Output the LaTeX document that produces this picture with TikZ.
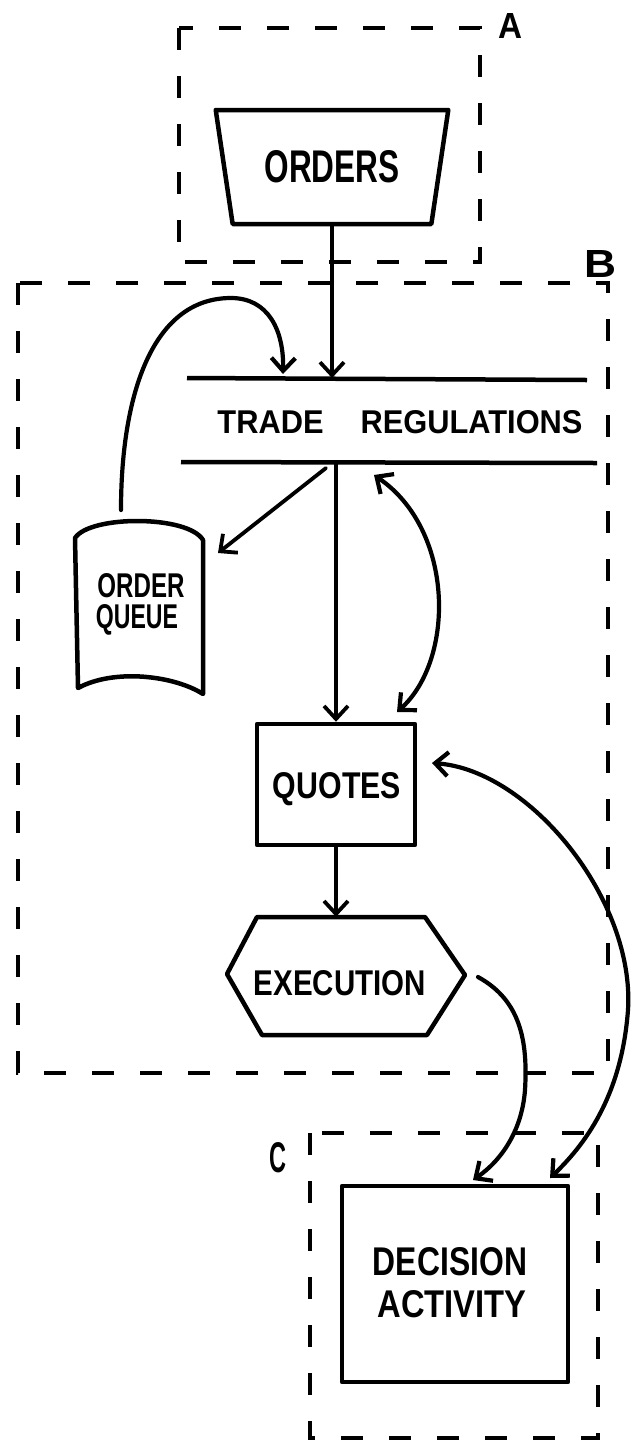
\documentclass[tikz,border=0pt]{standalone}
\usepackage{fontspec}
\setmainfont{Liberation Sans}
\usetikzlibrary{arrows.meta,shapes.geometric}
\newcommand{\fitt}[3]{\resizebox{#1pt}{#2pt}{\bfseries #3}}
\begin{document}
\begin{tikzpicture}[x=1pt,y=-1pt,
  dbox/.style={draw, line width=3.6pt, dash pattern=on 22pt off 26pt},
  shp/.style={draw, line width=4.5pt, line join=round},
  tip/.tip={Straight Barb[length=13pt,width=24pt]},
  arr/.style={line width=3.8pt, line cap=round, -tip},
  darr/.style={line width=4.2pt, line cap=round, tip-tip},
  txt/.style={inner sep=0pt, anchor=base}]
\useasboundingbox (0,0) rectangle (632,1444);
% frames
\draw[dbox] (179,28) rectangle (480,262);
\draw[dbox] (18,283) rectangle (608,1073);
\draw[dbox] (310,1133) rectangle (598,1438);
\node[txt] (la) at (510,38) {\fitt{24}{25}{A}};
\node[txt] (lb) at (601,277) {\fitt{32}{27}{B}};
\node[txt] (lc) at (278,1172) {\fitt{17}{30}{C}};
% orders
\node[trapezium, shape border rotate=180, trapezium stretches=true,
  trapezium left angle=70.5, trapezium right angle=70.5,
  minimum width=233pt, minimum height=114pt, inner sep=0pt, shp]
  (orders) at (332,167) {\fitt{135}{32}{ORDERS}};
% trade regulations
\node[txt] (tr) at (400,433) {\fitt{365}{23}{TRADE\hspace{1.2em}REGULATIONS}};
\coordinate (trtop) at (0,378);
\coordinate (trbot) at (0,462);
\draw[line width=4.5pt] (187,378) -- (587,380);
\draw[line width=4.5pt] (181,462) -- (597,463);
% order queue
\node[minimum width=128pt, minimum height=153pt, inner sep=0pt] (oq) at (139,613) {};
\draw[shp] (78,688) -- (75,538) .. controls (90,515) and (188,515) .. (203,540)
  -- (203,694) .. controls (175,676) and (115,668) .. cycle;
\node[txt] (oqa) at (141,597) {\fitt{87}{24}{ORDER}};
\node[txt] (oqb) at (137,628) {\fitt{82}{24}{QUEUE}};
% quotes
\node[shp, minimum width=158pt, minimum height=121pt, inner sep=0pt]
  (quotes) at (336,784.5) {};
\node[txt] (quotest) at (337,798) {\fitt{128}{26}{QUOTES}};
% execution
\node[minimum width=238pt, minimum height=118pt, inner sep=0pt] (exec) at (346,976) {};
\draw[shp] (227,974) -- (257,917) -- (425,917) -- (465,975) -- (427,1035) -- (262,1035) -- cycle;
\node[txt] (exect) at (340,995) {\fitt{172}{25}{EXECUTION}};
% decision
\node[shp, minimum width=226pt, minimum height=196pt, inner sep=0pt] (dec) at (455,1284) {};
\node[txt] (deca) at (450,1275) {\fitt{154}{28}{DECISION}};
\node[txt] (decb) at (452,1317) {\fitt{149}{27}{ACTIVITY}};
% connector end points
\coordinate (oqtop) at (121,510);
\coordinate (trin) at (283,374);
\coordinate (trout) at (326,468);
\coordinate (oqin) at (218,553);
\coordinate (trq) at (374,475);
\coordinate (qtr) at (397,712);
\coordinate (exout) at (478,977);
\coordinate (decin) at (473,1180);
\coordinate (qdec) at (432,763);
\coordinate (decq) at (550,1178);
% connectors
\draw[arr] (orders.south) -- (orders.south |- trtop);
\draw[darr, -tip] (oqtop) .. controls (121,400) and (150,298) .. (231,298)
  .. controls (268,298) and (284,330) .. (trin);
\draw[arr] (trout) -- (oqin);
\draw[arr] (quotes.north |- trbot) -- (quotes.north);
\draw[darr] (trq) .. controls (455,530) and (455,660) .. (qtr);
\draw[arr] (quotes.south) -- (quotes.south |- exec.north);
\draw[darr, -tip] (exout) .. controls (520,1000) and (528,1040) .. (525,1090)
  .. controls (522,1130) and (502,1160) .. (decin);
\draw[darr] (qdec) .. controls (530,770) and (635,900) .. (628,1010)
  .. controls (622,1090) and (590,1140) .. (decq);
\end{tikzpicture}
\end{document}
